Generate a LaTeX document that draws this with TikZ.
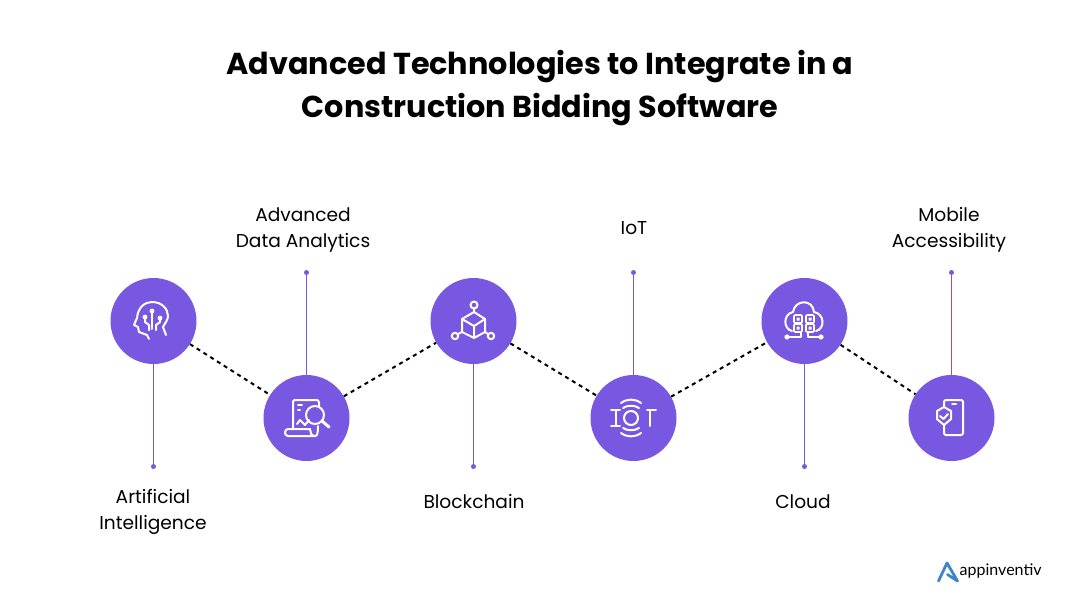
\documentclass[tikz,border=0pt]{standalone}
\usepackage{fontspec}
\setmainfont{Poppins}
\newfontfamily\logofont{Lato}
\definecolor{techpurple}{HTML}{7858E0}
\definecolor{logoblue}{HTML}{3D85C6}
\tikzset{
  techcircle/.style={circle,fill=techpurple,draw=none,minimum size=86pt,inner sep=0pt},
  techdot/.style={circle,fill=techpurple,draw=none,minimum size=5pt,inner sep=0pt},
  techstem/.style={draw=techpurple,line width=1.2pt},
  techlink/.style={draw=black,line width=2pt,dash pattern=on 4pt off 4pt},
  techlabel/.style={align=center,font=\fontsize{18.6}{26}\selectfont,text=black},
  icon/.style={draw=white,line width=2pt,line cap=round,line join=round}
}
\begin{document}
\begin{tikzpicture}[x=1pt,y=-1pt]
\useasboundingbox (0,0) rectangle (1080,616);
\node[align=center,font=\fontsize{30.25}{43}\bfseries] (title) at (540,88.5) {Advanced Technologies to Integrate in a\\Construction Bidding Software};

\node[techcircle] (ai) at (153.5,321) {};
\node[techcircle] (analytics) at (306.5,418) {};
\node[techcircle] (blockchain) at (473.5,321) {};
\node[techcircle] (iot) at (633.5,418) {};
\node[techcircle] (cloud) at (804.5,321) {};
\node[techcircle] (mobile) at (951.5,418) {};

\draw[techlink] (ai) -- (analytics);
\draw[techlink] (analytics) -- (blockchain);
\draw[techlink] (blockchain) -- (iot);
\draw[techlink] (iot) -- (cloud);
\draw[techlink] (cloud) -- (mobile);

\node[techdot] (aidot) at (153.5,466.5) {};
\node[techdot] (analyticsdot) at (306.5,272.5) {};
\node[techdot] (blockchaindot) at (473.5,466.5) {};
\node[techdot] (iotdot) at (633.5,272.5) {};
\node[techdot] (clouddot) at (804.5,466.5) {};
\node[techdot] (mobiledot) at (951.5,272.5) {};

\draw[techstem] (ai) -- (aidot);
\draw[techstem] (analytics) -- (analyticsdot);
\draw[techstem] (blockchain) -- (blockchaindot);
\draw[techstem] (iot) -- (iotdot);
\draw[techstem] (cloud) -- (clouddot);
\draw[techstem] (mobile) -- (mobiledot);

\node[techlabel] (ailabel) at (153,512) {Artificial\\Intelligence};
\node[techlabel] (analyticslabel) at (303,230) {Advanced\\Data Analytics};
\node[techlabel] (blockchainlabel) at (474,501.5) {Blockchain};
\node[techlabel] (iotlabel) at (634,228) {IoT};
\node[techlabel] (cloudlabel) at (803,501.5) {Cloud};
\node[techlabel] (mobilelabel) at (949,229.5) {Mobile\\Accessibility};

% head
\begin{scope}[shift={(153,321)}]
\draw[icon] (-4,18) -- (-6,14) -- (-14,11) -- (-15,6) -- (-19,4) -- (-16,-3) .. controls (-15,-14) and (-8,-19) .. (-1,-19) .. controls (9,-19) and (15,-12) .. (15,-5) .. controls (15,-1) and (12,2) .. (10,6) -- (13,14);
\draw[icon] (-1,-10) -- (-1,8);
\draw[icon] (-8,-4) -- (-8,1) -- (-4,4) -- (-4,9);
\draw[icon] (7,-3) -- (7,1) -- (3,4) -- (3,9);
\fill[white] (-1,-10) circle (2.4pt) (-8,-4) circle (2.4pt) (7,-3) circle (2.4pt);
\end{scope}

% report and lens
\begin{scope}[shift={(307,418)}]
\draw[icon] (-14,11) -- (-14,-16) .. controls (-14,-17) and (-13,-18) .. (-12,-18) -- (10,-18) .. controls (11,-18) and (12,-17) .. (12,-15) -- (12,-12);
\draw[icon] (-19,11) -- (3,11) (-19,11) .. controls (-23,11) and (-23,18) .. (-19,18) -- (8,18) .. controls (10,18) and (11,16) .. (11,8);
\draw[icon] (3,11) .. controls (3,14) and (4,18) .. (8,18);
\draw[icon] (8,-3) circle (9pt);
\draw[icon,line width=3pt] (15,3) -- (22,9);
\draw[icon] (-9,-13) -- (-5,-13) (-9,-8) -- (-7,-8);
\draw[icon] (-10,6) -- (-7,2) -- (-2,7) -- (2,2);
\end{scope}

% cube with nodes
\begin{scope}[shift={(473,321)}]
\draw[icon] (1,-9) -- (12,-2) -- (12,11) -- (1,17) -- (-11,11) -- (-11,-2) -- cycle;
\draw[icon] (-11,-2) -- (1,5) -- (12,-2) (1,5) -- (1,17);
\draw[icon] (1,-16) circle (3.5pt) (1,-12.5) -- (1,-9);
\draw[icon] (-18,15) circle (3.2pt) (-15,13) -- (-11,11);
\draw[icon] (18,15) circle (3.2pt) (15,13) -- (12,11);
\end{scope}

% iot letters
\begin{scope}[shift={(634,418)}]
\draw[icon] (-3,0) circle (7pt);
\draw[icon] (-23,-8) -- (-14,-8) (-23,8) -- (-14,8) (-18.5,-8) -- (-18.5,8);
\draw[icon] (13,-8) -- (22,-8) (16,-8) -- (16,8);
\draw[icon] (-11,-10) .. controls (-7,-13) and (1,-13) .. (5,-10);
\draw[icon] (-13,-15) .. controls (-7,-19.5) and (1,-19.5) .. (7,-15);
\draw[icon] (-11,10) .. controls (-7,13) and (1,13) .. (5,10);
\draw[icon] (-13,15) .. controls (-7,19.5) and (1,19.5) .. (7,15);
\end{scope}

% cloud with chips
\begin{scope}[shift={(804,321)}]
\draw[icon] (-12,10) .. controls (-21,8) and (-21,-7) .. (-11,-9) .. controls (-9,-22) and (9,-22) .. (10,-9) .. controls (21,-7) and (21,8) .. (12,10);
\draw[icon,line width=1.6pt,rounded corners=1pt] (-10,-6) rectangle (-2,2) (2,-6) rectangle (10,2) (-10,3) rectangle (-2,11) (2,3) rectangle (10,11);
\fill[white] (-7.5,-3.5) rectangle (-4.5,-0.5) (4.5,-3.5) rectangle (7.5,-0.5) (-7.5,5.5) rectangle (-4.5,8.5) (4.5,5.5) rectangle (7.5,8.5);
\draw[icon] (-3,11) -- (-3,16) -- (-17,16) (4,11) -- (4,16) -- (17,16);
\fill[white] (-17,16) circle (2.6pt) (17,16) circle (2.6pt);
\end{scope}

% phone and shield
\begin{scope}[shift={(951,418)}]
\draw[icon] (-7,-12) -- (-7,-16) .. controls (-7,-17) and (-6,-18) .. (-5,-18) -- (10,-18) .. controls (11,-18) and (12,-17) .. (12,-16) -- (12,15) .. controls (12,16) and (11,17) .. (10,17) -- (-5,17) .. controls (-6,17) and (-7,16) .. (-7,15) -- (-7,7);
\draw[icon] (1,-14) -- (5,-14);
\draw[icon] (-14,-7) -- (-7,-11) -- (0,-7) -- (0,1) -- (-7,7) -- (-14,1) -- cycle;
\draw[icon] (-11,-2) -- (-7.5,1) -- (-3,-4);
\end{scope}

% logo
\draw[logoblue,line width=2.8pt,line join=round,line cap=round] (938.5,581) -- (947,563) -- (957.5,581) -- (947.5,574.5);
\node[font=\logofont\fontsize{16}{18}\selectfont,anchor=west,inner sep=0pt] (logotext) at (959.5,571) {appinventiv};
\end{tikzpicture}
\end{document}
